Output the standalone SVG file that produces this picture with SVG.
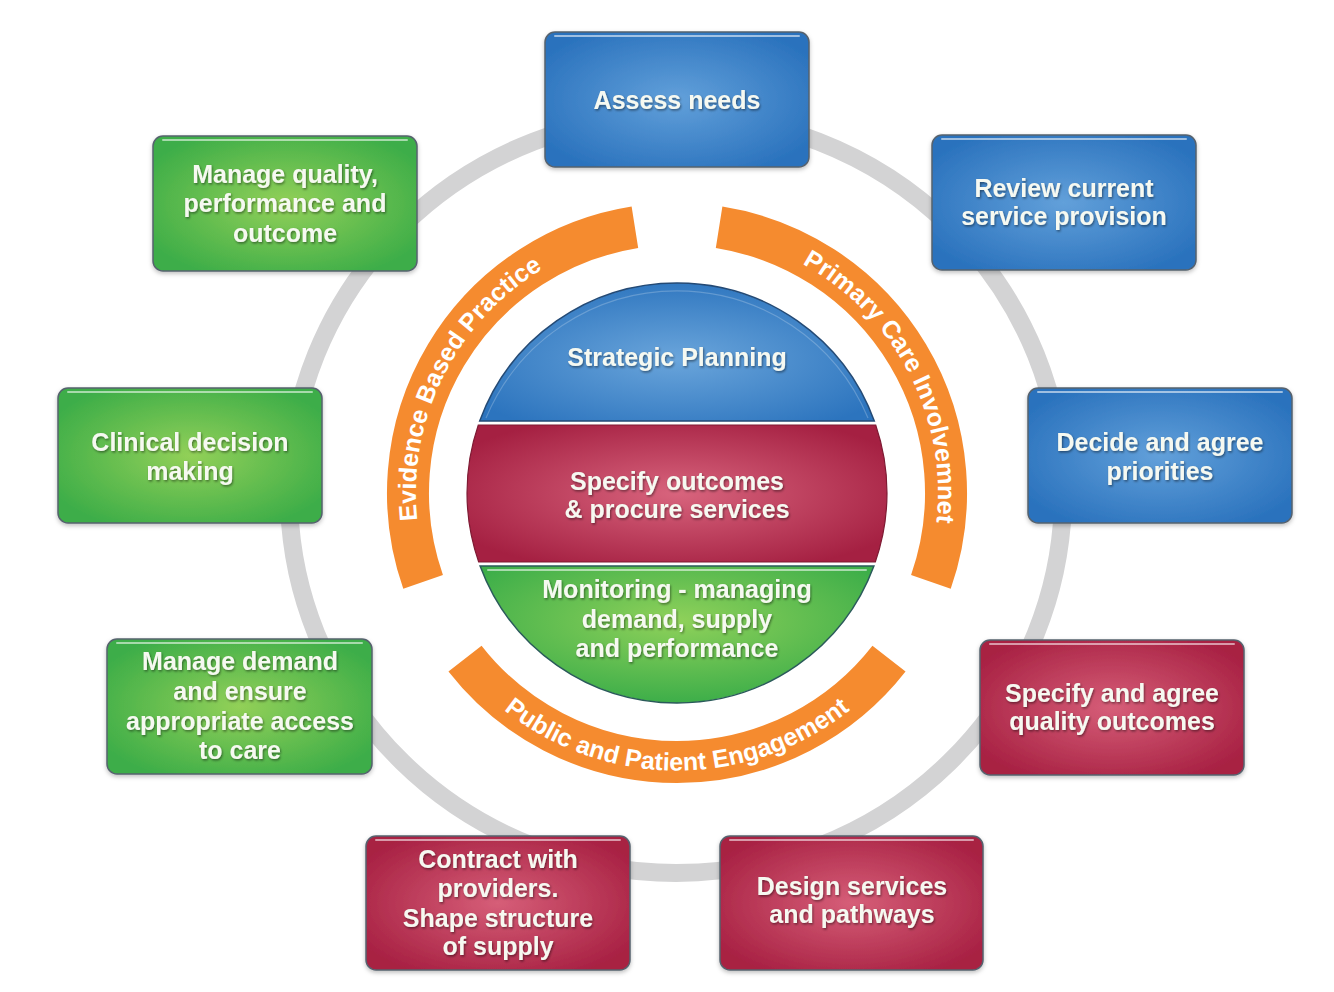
<svg xmlns="http://www.w3.org/2000/svg" xmlns:xlink="http://www.w3.org/1999/xlink" width="1334" height="992" viewBox="0 0 1334 992">
<style>
.t{font-family:"Liberation Sans",Arial,sans-serif;font-weight:bold;font-size:25px;fill:#f6f9f1;text-anchor:middle;filter:url(#ts)}
.at{font-family:"Liberation Sans",Arial,sans-serif;font-weight:bold;font-size:25px;fill:#ffffff;text-anchor:middle}
.box{stroke:#56626e;stroke-width:1.5}
.hl{stroke:#ffffff;stroke-opacity:0.55;stroke-width:2;fill:none;stroke-linecap:round}
.arc{fill:none;stroke:#f58b2f;stroke-width:42}
</style>
<defs>
<filter id="ts" x="-10%" y="-30%" width="120%" height="160%">
<feDropShadow dx="1" dy="1.5" stdDeviation="1" flood-color="#000" flood-opacity="0.45"/>
</filter>
<filter id="bs" x="-10%" y="-10%" width="120%" height="125%">
<feDropShadow dx="0" dy="2" stdDeviation="2" flood-color="#000" flood-opacity="0.25"/>
</filter>
<radialGradient id="gBlue" cx="50%" cy="50%" r="60%">
<stop offset="0" stop-color="#62a0da"/><stop offset="1" stop-color="#2a72bd"/>
</radialGradient>
<radialGradient id="gRed" cx="50%" cy="50%" r="60%">
<stop offset="0" stop-color="#d65e78"/><stop offset="1" stop-color="#a82143"/>
</radialGradient>
<radialGradient id="gGreen" cx="50%" cy="50%" r="60%">
<stop offset="0" stop-color="#92d058"/><stop offset="1" stop-color="#3cad48"/>
</radialGradient>
<radialGradient id="dBlue" cx="50%" cy="55%" r="60%">
<stop offset="0" stop-color="#6aa5db"/><stop offset="1" stop-color="#2c74be"/>
</radialGradient>
<radialGradient id="dRed" cx="50%" cy="50%" r="60%">
<stop offset="0" stop-color="#d8647d"/><stop offset="1" stop-color="#a52042"/>
</radialGradient>
<radialGradient id="dGreen" cx="50%" cy="40%" r="60%">
<stop offset="0" stop-color="#8fd15a"/><stop offset="1" stop-color="#3dae49"/>
</radialGradient>
<path id="pLeft" d="M 430.7 579.4 A 261 261 0 0 1 636.2 235.2"/>
<path id="pRight" d="M 717.8 235.2 A 261 261 0 0 1 923.3 579.4"/>
<path id="pBottom" d="M 458.3 663.9 A 277.5 277.5 0 0 0 895.7 663.9"/>
</defs>

<rect x="0" y="0" width="1334" height="992" fill="#ffffff"/>

<g id="connectors">
<ellipse cx="676" cy="494" rx="387" ry="379" fill="none" stroke="#d3d3d4" stroke-width="18"/>
</g>

<g id="arcs">
<path class="arc" d="M 423.1 581.9 A 269 269 0 0 1 634.9 227.3"/>
<path class="arc" d="M 719.1 227.3 A 269 269 0 0 1 930.9 581.9"/>
<path class="arc" d="M 465 658.6 A 269 269 0 0 0 889 658.6"/>
<text class="at"><textPath xlink:href="#pLeft" href="#pLeft" startOffset="45.7%">Evidence Based Practice</textPath></text>
<text class="at"><textPath xlink:href="#pRight" href="#pRight" startOffset="53.4%">Primary Care Involvemnet</textPath></text>
<text class="at"><textPath xlink:href="#pBottom" href="#pBottom" startOffset="50%">Public and Patient Engagement</textPath></text>
</g>

<g id="strategic-planning">
<path d="M 479.7 421 A 210 210 0 0 1 874.3 421 Z" fill="url(#dBlue)" stroke="#244a75" stroke-width="1.5"/>
<path d="M 486 418 A 207 207 0 0 1 868 418" fill="none" stroke="#ffffff" stroke-opacity="0.22" stroke-width="1.2"/>
<text class="t" x="677" y="366">Strategic Planning</text>
</g>

<g id="specify-outcomes">
<path d="M 478.3 425 L 875.7 425 A 210 210 0 0 1 875.3 562 L 478.7 562 A 210 210 0 0 1 478.3 425 Z" fill="url(#dRed)" stroke="#7e1a33" stroke-width="1.2"/>
<text class="t" x="677" y="490">Specify outcomes</text>
<text class="t" x="677" y="518">&amp; procure services</text>
</g>

<g id="monitoring">
<path d="M 480.1 566 L 873.9 566 A 210 210 0 0 1 480.1 566 Z" fill="url(#dGreen)" stroke="#2a5a5a" stroke-width="1.5"/>
<path d="M 488 570 L 866 570" class="hl"/>
<text class="t" x="677" y="598">Monitoring - managing</text>
<text class="t" x="677" y="628">demand, supply</text>
<text class="t" x="677" y="657">and performance</text>
</g>

<g id="assess-needs" filter="url(#bs)">
<rect class="box" x="545" y="32" width="264" height="135" rx="10" fill="url(#gBlue)"/>
<path class="hl" d="M 555 36 L 799 36"/>
<text class="t" x="677" y="109">Assess needs</text>
</g>

<g id="review-current" filter="url(#bs)">
<rect class="box" x="932" y="135" width="264" height="135" rx="10" fill="url(#gBlue)"/>
<path class="hl" d="M 942 139 L 1186 139"/>
<text class="t" x="1064" y="197">Review current</text>
<text class="t" x="1064" y="225">service provision</text>
</g>

<g id="decide-priorities" filter="url(#bs)">
<rect class="box" x="1028" y="388" width="264" height="135" rx="10" fill="url(#gBlue)"/>
<path class="hl" d="M 1038 392 L 1282 392"/>
<text class="t" x="1160" y="451">Decide and agree</text>
<text class="t" x="1160" y="480">priorities</text>
</g>

<g id="quality-outcomes" filter="url(#bs)">
<rect class="box" x="980" y="640" width="264" height="135" rx="10" fill="url(#gRed)"/>
<path class="hl" d="M 990 644 L 1234 644"/>
<text class="t" x="1112" y="702">Specify and agree</text>
<text class="t" x="1112" y="730">quality outcomes</text>
</g>

<g id="design-services" filter="url(#bs)">
<rect class="box" x="720" y="836" width="263" height="134" rx="10" fill="url(#gRed)"/>
<path class="hl" d="M 730 840 L 973 840"/>
<text class="t" x="852" y="895">Design services</text>
<text class="t" x="852" y="923">and pathways</text>
</g>

<g id="contract-providers" filter="url(#bs)">
<rect class="box" x="366" y="836" width="264" height="134" rx="10" fill="url(#gRed)"/>
<path class="hl" d="M 376 840 L 620 840"/>
<text class="t" x="498" y="868">Contract with</text>
<text class="t" x="498" y="897">providers.</text>
<text class="t" x="498" y="927">Shape structure</text>
<text class="t" x="498" y="955">of supply</text>
</g>

<g id="manage-demand" filter="url(#bs)">
<rect class="box" x="107" y="639" width="265" height="135" rx="10" fill="url(#gGreen)"/>
<path class="hl" d="M 117 643 L 362 643"/>
<text class="t" x="240" y="670">Manage demand</text>
<text class="t" x="240" y="700">and ensure</text>
<text class="t" x="240" y="730">appropriate access</text>
<text class="t" x="240" y="759">to care</text>
</g>

<g id="clinical-decision" filter="url(#bs)">
<rect class="box" x="58" y="388" width="264" height="135" rx="10" fill="url(#gGreen)"/>
<path class="hl" d="M 68 392 L 312 392"/>
<text class="t" x="190" y="451">Clinical decision</text>
<text class="t" x="190" y="480">making</text>
</g>

<g id="manage-quality" filter="url(#bs)">
<rect class="box" x="153" y="136" width="264" height="135" rx="10" fill="url(#gGreen)"/>
<path class="hl" d="M 163 140 L 407 140"/>
<text class="t" x="285" y="183">Manage quality,</text>
<text class="t" x="285" y="212">performance and</text>
<text class="t" x="285" y="242">outcome</text>
</g>
</svg>
